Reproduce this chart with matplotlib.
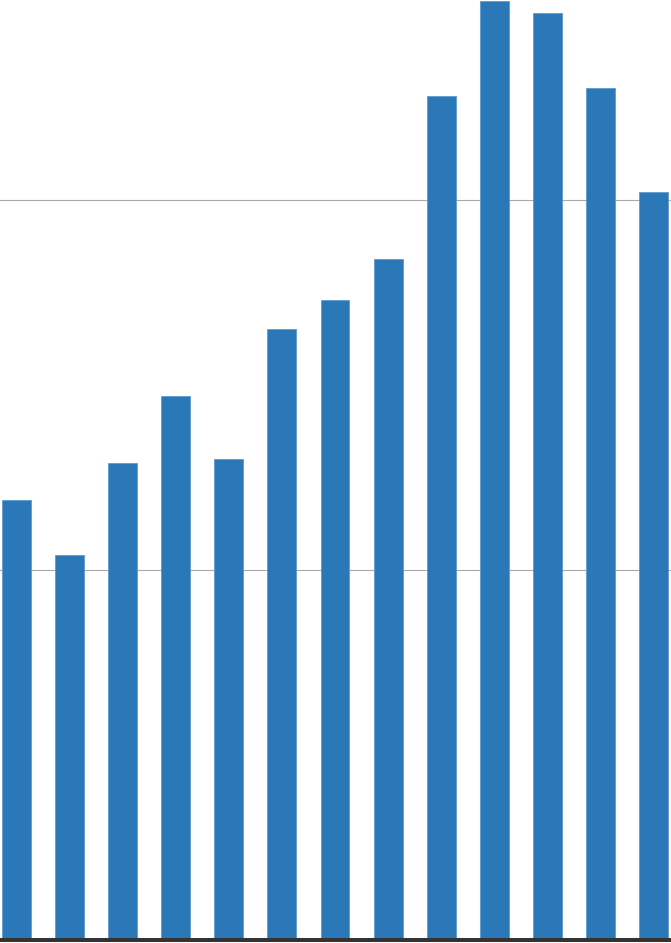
import matplotlib
matplotlib.use('Agg')
import matplotlib.pyplot as plt

# bar heights (grid step = 100)
positions = list(range(13))
values = [118.9, 104.1, 128.9, 147.0, 130.0, 165.1, 173.0, 184.1, 228.1, 253.9, 250.5, 230.3, 202.2]
grid_values = [100, 200]

fig = plt.figure(figsize=(6.71, 9.43), dpi=100)
ax = fig.add_axes([0, 3 / 943, 1, 940 / 943])

for g in grid_values:
    ax.axhline(g, color='#a8a8a8', linewidth=0.8, zorder=1)

ax.bar(positions, values, width=0.546, color='#2a78b8', edgecolor='#5e9bd0',
       linewidth=0.6, zorder=2)
ax.axhline(0, color='#333333', linewidth=2.9, zorder=3, clip_on=False)

ax.set_xlim(-0.311, 12.33)
ax.set_ylim(0, 254.1)
ax.axis('off')

fig.savefig('out.png', dpi=100)
